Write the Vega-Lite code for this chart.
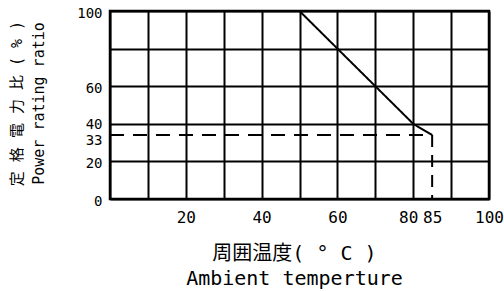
{
  "$schema": "https://vega.github.io/schema/vega-lite/v6.json",
  "autosize": "none",
  "padding": {"left": 110, "top": 11, "right": 15, "bottom": 92},
  "width": 379,
  "height": 188,
  "background": "white",
  "config": {
    "view": {"stroke": "black", "strokeWidth": 2.5},
    "font": "DejaVu Sans Mono, Noto Sans CJK JP"
  },
  "data": {
    "values": [
      {"series": "derating", "t": 0, "p": 100},
      {"series": "derating", "t": 50, "p": 100},
      {"series": "derating", "t": 80, "p": 40},
      {"series": "derating", "t": 85, "p": 34},
      {"series": "h", "t": 0, "p": 34},
      {"series": "h", "t": 85, "p": 34},
      {"series": "v", "t": 85, "p": 34},
      {"series": "v", "t": 85, "p": 0}
    ]
  },
  "mark": {"type": "line", "color": "black", "strokeWidth": 2, "clip": false},
  "encoding": {
    "x": {
      "field": "t", "type": "quantitative",
      "scale": {"domain": [0, 100], "nice": false, "zero": false},
      "axis": {
        "values": [0, 10, 20, 30, 40, 50, 60, 70, 80, 85, 90, 100],
        "labelExpr": "indexof([20,40,60,80,85,100], datum.value) >= 0 ? datum.label : ''",
        "labelOffset": {"condition": {"test": "datum.value === 80", "value": -5}, "value": 0},
        "labelOverlap": false,
        "labelFont": "DejaVu Sans Mono",
        "labelFontSize": 16,
        "labelColor": "black",
        "labelPadding": 10,
        "labelBaseline": "top",
        "labelFlush": false,
        "ticks": false,
        "domain": false,
        "grid": true,
        "gridColor": "black",
        "gridWidth": 2,
        "gridOpacity": {"condition": {"test": "datum.value === 85", "value": 0}, "value": 1},
        "title": ["周囲温度( ° C )", "Ambient temperture"],
        "titleFont": "DejaVu Sans Mono, Noto Sans CJK JP",
        "titleFontSize": 20,
        "titleFontWeight": "normal",
        "titleColor": "black",
        "titleLineHeight": 25,
        "titleAnchor": "middle",
        "titleAlign": "center",
        "titleBaseline": "top",
        "titleX": 184,
        "titleY": 44
      }
    },
    "y": {
      "field": "p", "type": "quantitative",
      "scale": {"domain": [0, 100], "nice": false, "zero": false},
      "axis": {
        "values": [0, 20, 33, 40, 60, 80, 100],
        "labelExpr": "datum.value === 80 ? '' : datum.label",
        "labelOverlap": false,
        "labelFont": "DejaVu Sans Mono",
        "labelFontSize": 14,
        "labelColor": "black",
        "labelPadding": 8,
        "labelOffset": {"condition": [{"test": "datum.value === 33", "value": 4}, {"test": "datum.value === 40", "value": 1}], "value": 2},
        "labelFlush": false,
        "ticks": false,
        "domain": false,
        "grid": true,
        "gridColor": "black",
        "gridWidth": 2,
        "gridOpacity": {"condition": {"test": "datum.value === 33", "value": 0}, "value": 1},
        "title": ["定 格 電 力 比 ( % )", "Power rating ratio"],
        "titleFont": "DejaVu Sans Mono, Noto Sans CJK JP",
        "titleFontSize": 15,
        "titleFontWeight": "normal",
        "titleColor": "black",
        "titleLineHeight": 22,
        "titleAngle": -90,
        "titleAlign": "center",
        "titleBaseline": "top",
        "titleX": -101,
        "titleY": 92
      }
    },
    "detail": {"field": "series"},
    "strokeDash": {
      "field": "series", "type": "nominal",
      "scale": {"domain": ["derating", "h", "v"], "range": [[1, 0], [14, 9], [12, 8]]},
      "legend": null
    }
  }
}
